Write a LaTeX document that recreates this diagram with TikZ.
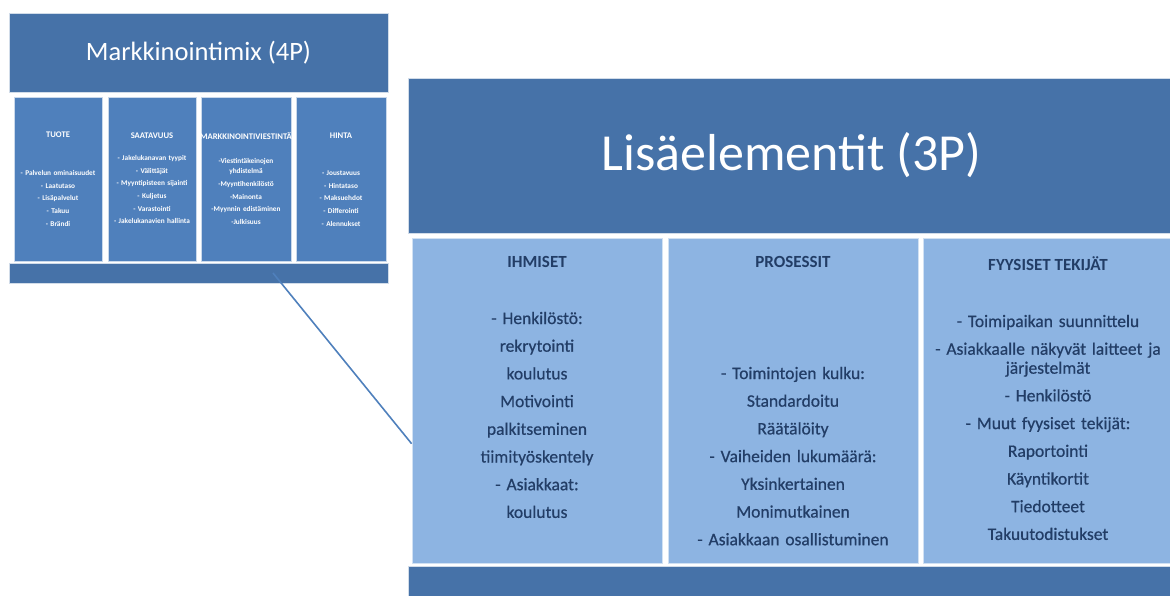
\documentclass[tikz,border=0pt]{standalone}
\usepackage{fontspec}
\setmainfont{Carlito}
\newfontfamily\heavyfont[FakeBold=0.6]{Carlito}
\usepackage{xcolor}
\definecolor{titleblue}{HTML}{4672A8}
\definecolor{colblue}{HTML}{4F80BC}
\definecolor{paleblue}{HTML}{8DB4E2}
\definecolor{inknavy}{HTML}{223D66}
\usepackage{tikz}

\begin{document}
\begin{tikzpicture}[x=1pt, y=-1pt,
    darkbox/.style={rectangle, fill=titleblue, draw=white!75!titleblue, line width=0.8pt, inner sep=0pt, text=white},
    smallcol/.style={rectangle, fill=colblue, draw=white!70!colblue, line width=0.8pt, inner sep=0pt},
    bigcol/.style={rectangle, fill=paleblue, draw=white!60!paleblue, line width=0.8pt, inner sep=0pt},
    smallhead/.style={anchor=base, inner sep=0pt, text=white, font=\fontsize{8.6}{10}\selectfont\bfseries},
    smalltext/.style={anchor=base, inner sep=0pt, text=white, text width=100pt, align=center, font=\fontsize{7.3}{12.7}\selectfont\bfseries},
    bighead/.style={anchor=base, inner sep=0pt, text=inknavy, font=\fontsize{17}{20}\selectfont\bfseries},
    bigtext/.style={anchor=base, inner sep=0pt, text=inknavy, text width=245pt, align=center, font=\fontsize{17.5}{27.7}\selectfont\heavyfont}]
\useasboundingbox (0, 0) rectangle (1170, 596);

% Markkinointimix (4P)
\node (mixtitle) at (198.5, 52.5) [darkbox, minimum width=379, minimum height=79, font=\fontsize{26.5}{30}\selectfont] {Markkinointimix (4P)};
\node (tuote) at (58, 179) [smallcol, minimum width=88, minimum height=164] {};
\node (saatavuus) at (152, 179) [smallcol, minimum width=88, minimum height=164] {};
\node (viestinta) at (246, 179) [smallcol, minimum width=90, minimum height=164] {};
\node (hinta) at (341, 179) [smallcol, minimum width=90, minimum height=164] {};
\node (mixbar) at (198.5, 273) [darkbox, minimum width=379, minimum height=20] {};

\node (tuotehead) at (58, 137.5) [smallhead] {TUOTE};
\node (tuotetext) at (58, 175.5) [smalltext] {- Palvelun ominaisuudet\\ - Laatutaso\\ - Lisäpalvelut\\ - Takuu\\ - Brändi};
\node (saatavuushead) at (152, 138.5) [smallhead] {SAATAVUUS};
\node (saatavuustext) at (152, 160.5) [smalltext] {- Jakelukanavan tyypit\\ - Välittäjät\\ - Myyntipisteen sijainti\\ - Kuljetus\\ - Varastointi\\ - Jakelukanavien hallinta};
\node (viestintahead) at (246, 139.5) [smallhead] {MARKKINOINTIVIESTINTÄ};
\node (viestintatext) at (246, 163.5) [smalltext] {-Viestintäkeinojen\\[-2.5pt] yhdistelmä\\ -Myyntihenkilöstö\\ -Mainonta\\ -Myynnin edistäminen\\ -Julkisuus};
\node (hintahead) at (341, 138.5) [smallhead] {HINTA};
\node (hintatext) at (341, 175.5) [smalltext] {- Joustavuus\\ - Hintataso\\ - Maksuehdot\\ - Differointi\\ - Alennukset};

% Lisäelementit (3P)
\node (lisatitle) at (791.5, 155.5) [darkbox, minimum width=767, minimum height=155, font=\fontsize{52}{58}\selectfont] {Lisäelementit (3P)};
\node (ihmiset) at (537, 400.5) [bigcol, minimum width=250, minimum height=325] {};
\node (prosessit) at (793, 400.5) [bigcol, minimum width=250, minimum height=325] {};
\node (fyysiset) at (1048, 400.5) [bigcol, minimum width=250, minimum height=325] {};
\node (lisabar) at (791.5, 581) [darkbox, minimum width=767, minimum height=30] {};

\node (ihmisethead) at (537, 268) [bighead] {IHMISET};
\node (ihmisettext) at (537, 324) [bigtext] {- Henkilöstö:\\ rekrytointi\\ koulutus\\ Motivointi\\ palkitseminen\\ tiimityöskentely\\ - Asiakkaat:\\ koulutus};
\node (prosessithead) at (793, 268) [bighead] {PROSESSIT};
\node (prosessittext) at (793, 379) [bigtext] {- Toimintojen kulku:\\ Standardoitu\\ Räätälöity\\ - Vaiheiden lukumäärä:\\ Yksinkertainen\\ Monimutkainen\\ - Asiakkaan osallistuminen};
\node (fyysisethead) at (1048, 270) [bighead] {FYYSISET TEKIJÄT};
\node (fyysisettext) at (1048, 327) [bigtext] {- Toimipaikan suunnittelu\\ - Asiakkaalle näkyvät laitteet ja\\[-8.7pt] järjestelmät\\ - Henkilöstö\\ - Muut fyysiset tekijät:\\ Raportointi\\ Käyntikortit\\ Tiedotteet\\ Takuutodistukset};

% yhdysviiva
\coordinate (mixlink) at (273, 273);
\draw[colblue, line width=1.6pt] (mixlink) -- (ihmiset.199);
\end{tikzpicture}
\end{document}
